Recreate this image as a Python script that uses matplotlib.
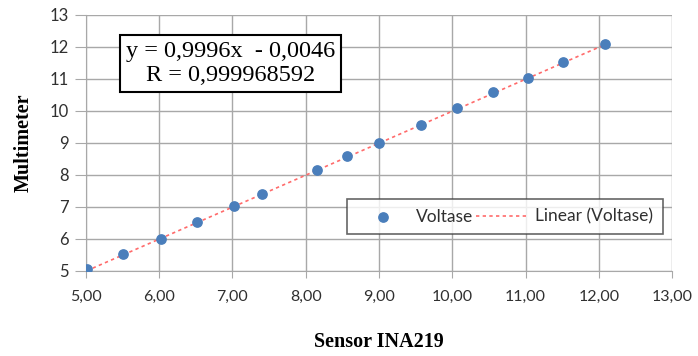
import numpy as np
import matplotlib.pyplot as plt

# Sensor INA219 readings vs multimeter readings (V)
sensor = [5.01, 5.51, 6.02, 6.51, 7.02, 7.40, 8.16, 8.56, 9.00, 9.57, 10.06, 10.56, 11.03, 11.51, 12.08]
multimeter = [5.05, 5.53, 6.01, 6.53, 7.03, 7.41, 8.16, 8.59, 9.01, 9.56, 10.10, 10.58, 11.03, 11.53, 12.08]
slope, intercept = 0.9996, -0.0046
x_ticks = [5, 6, 7, 8, 9, 10, 11, 12, 13]
y_ticks = [5, 6, 7, 8, 9, 10, 11, 12, 13]

fig = plt.figure(figsize=(6.98, 3.56), dpi=100)
ax = fig.add_axes([0.123, 0.239, 0.840, 0.719])

ax.scatter(sensor, multimeter, s=45, color='#4a7ebb', zorder=3, label='Voltase')
xf = np.array([min(sensor), max(sensor)])
ax.plot(xf, slope * xf + intercept, color='#ff6b6b', ls=(0, (2, 2)), lw=1.2, zorder=2,
        label='Linear (Voltase)')

ax.set_xlim(5, 13)
ax.set_ylim(5, 13)
ax.set_xticks(x_ticks)
ax.set_yticks(y_ticks)
ax.set_xticklabels([f'{v:.2f}'.replace('.', ',') for v in x_ticks], family='Lato', fontsize=11.5, color='#303030')
ax.set_yticklabels([str(v) for v in y_ticks], family='Lato', fontsize=12, color='#303030')
ax.grid(True, color='#a8a8a8', lw=1)
for s in ['top', 'right']:
    ax.spines[s].set_visible(False)
ax.spines['left'].set_color('#a8a8a8')
ax.spines['bottom'].set_color('#a8a8a8')
ax.tick_params(axis='x', length=5, color='#a8a8a8', pad=9)
ax.tick_params(axis='y', length=8, color='#a8a8a8', pad=4)

ax.set_xlabel('Sensor INA219', family='Liberation Serif', fontweight='bold', fontsize=14.5, labelpad=20)
ax.set_ylabel('Multimeter', family='Liberation Serif', fontweight='bold', fontsize=14.5, labelpad=12)

ax.text(0.247, 0.81, 'y = 0,9996x  - 0,0046\nR = 0,999968592', transform=ax.transAxes,
        ha='center', va='center', family='Liberation Serif', fontsize=17.5, linespacing=1.15,
        bbox=dict(boxstyle='square,pad=0.25', fc='white', ec='black', lw=1.5), zorder=4)

leg = ax.legend(loc='lower right', bbox_to_anchor=(0.99, 0.13), ncol=2,
                prop={'family': 'Lato', 'size': 12.5}, frameon=True, fancybox=False,
                edgecolor='#404040', handlelength=3.0, handletextpad=0.4, columnspacing=0.2,
                borderpad=0.55, borderaxespad=0.2)
leg.get_frame().set_linewidth(1.2)
for t in leg.get_texts():
    t.set_color('#303030')

fig.savefig('out.png', dpi=100)
